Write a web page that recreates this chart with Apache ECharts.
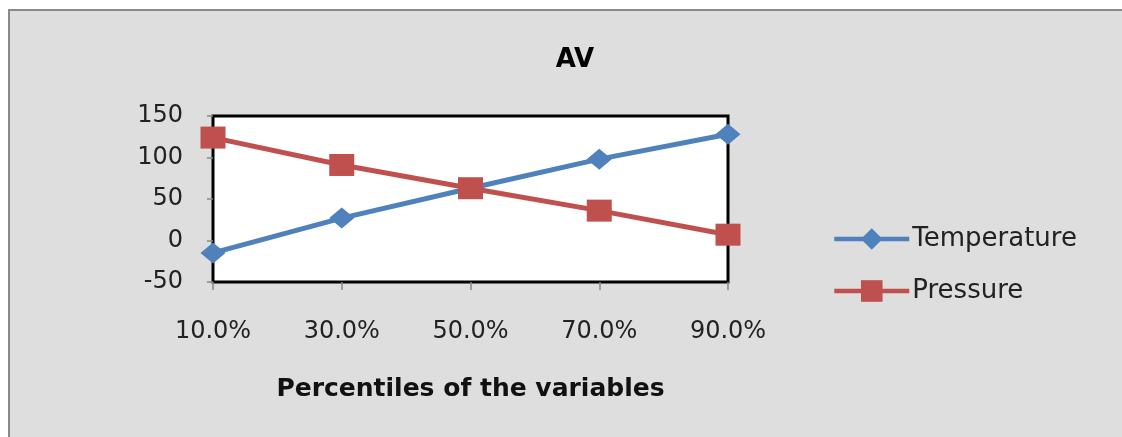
<!DOCTYPE html>
<html>
<head>
<meta charset="utf-8">
<script src="https://cdn.jsdelivr.net/npm/echarts@6/dist/echarts.min.js"></script>
<style>
html,body{margin:0;padding:0;background:#fff;}
#chart{width:1122px;height:437px;}
</style>
</head>
<body>
<div id="chart"></div>
<script>
var categories = ['10.0%', '30.0%', '50.0%', '70.0%', '90.0%'];
var temperature = [-15, 27, 63, 98, 128];
var pressure = [124, 91, 63, 36, 7];
var yTicks = [-50, 0, 50, 100, 150];

var FONT = 'DejaVu Sans';
var chart = echarts.init(document.getElementById('chart'), null, {renderer: 'canvas'});
chart.setOption({
  animation: false,
  backgroundColor: '#ffffff',
  graphic: [{
    type: 'rect',
    z: -10,
    shape: {x: 9, y: 10, width: 1130, height: 440},
    style: {fill: '#dedede', stroke: '#8a8a8a', lineWidth: 2}
  }],
  title: {
    text: 'AV',
    left: 570,
    top: 42,
    textAlign: 'center',
    textStyle: {fontFamily: FONT, fontSize: 26, fontWeight: 'bold', color: '#000'}
  },
  legend: {
    orient: 'vertical',
    left: 827,
    top: 221,
    itemWidth: 75,
    itemHeight: 27,
    itemGap: 26,
    lineStyle: {width: 4.5},
    textStyle: {fontFamily: FONT, fontSize: 26, color: '#222', padding: [0, 0, 0, -2]},
    data: ['Temperature', 'Pressure']
  },
  grid: {
    left: 213, right: 394, top: 116, bottom: 155,
    show: true,
    backgroundColor: '#ffffff',
    borderColor: '#000000',
    borderWidth: 3
  },
  xAxis: {
    type: 'category',
    data: categories,
    boundaryGap: false,
    axisLine: {show: false, onZero: false},
    axisTick: {show: true, length: 8, lineStyle: {color: '#888', width: 1.5}, alignWithLabel: true},
    axisLabel: {fontFamily: FONT, fontSize: 24, color: '#222', margin: 38},
    name: 'Percentiles of the variables',
    nameLocation: 'middle',
    nameGap: 95,
    nameTextStyle: {fontFamily: FONT, fontSize: 25, fontWeight: 'bold', color: '#111'}
  },
  yAxis: {
    type: 'value',
    min: yTicks[0],
    max: yTicks[yTicks.length - 1],
    interval: 50,
    splitLine: {show: false},
    axisLine: {show: false},
    axisTick: {show: true, length: 6, lineStyle: {color: '#888', width: 1.5}},
    axisLabel: {fontFamily: FONT, fontSize: 24, color: '#222', margin: 30}
  },
  series: [{
    name: 'Temperature',
    type: 'line',
    data: temperature,
    symbol: 'diamond',
    symbolSize: [25, 21],
    lineStyle: {color: '#4f81bd', width: 5},
    itemStyle: {color: '#4f81bd'},
    z: 2
  }, {
    name: 'Pressure',
    type: 'line',
    data: pressure,
    symbol: 'rect',
    symbolSize: [25, 22],
    lineStyle: {color: '#c0504d', width: 5},
    itemStyle: {color: '#c0504d'},
    z: 3
  }]
});
</script>
</body>
</html>
